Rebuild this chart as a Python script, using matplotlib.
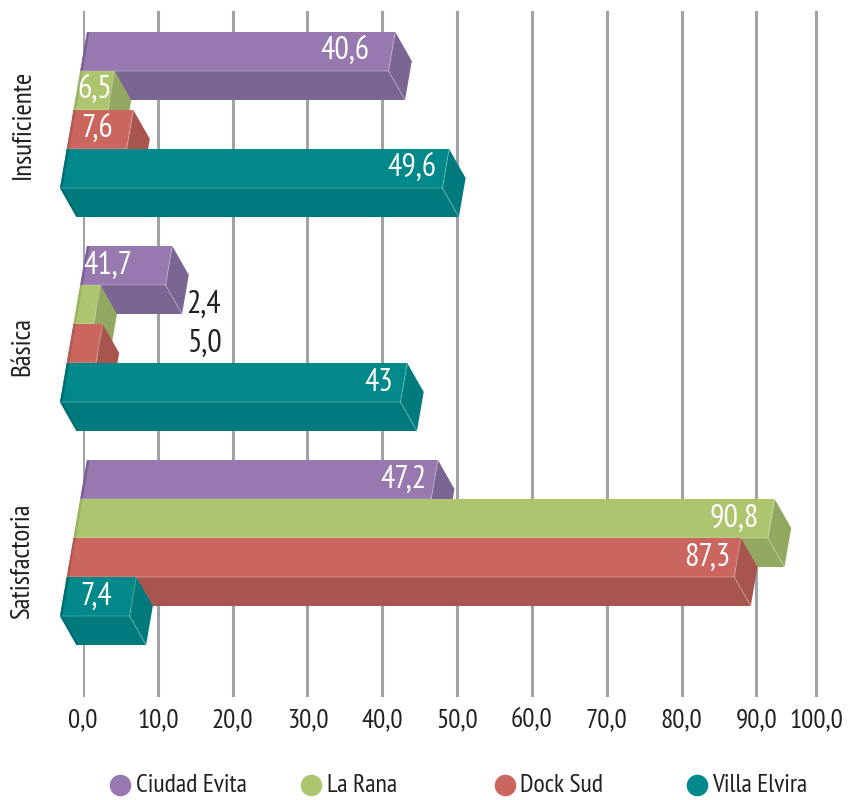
import matplotlib
matplotlib.use("Agg")
import matplotlib.pyplot as plt
from matplotlib.lines import Line2D
from matplotlib.patches import Polygon

""" data read off the picture """
categories = ["Insuficiente", "Básica", "Satisfactoria"]
series = ["Ciudad Evita", "La Rana", "Dock Sud", "Villa Elvira"]
# drawn bar lengths differ from the printed labels in the original
ciudad_evita = [41.2, 11.4, 46.9]
la_rana = [4.6, 2.7, 92.8]
dock_sud = [8.0, 3.9, 89.2]
villa_elvira = [51.1, 45.5, 9.3]
ciudad_evita_labels = ["40,6", "41,7", "47,2"]
la_rana_labels = ["6,5", "2,4", "90,8"]
dock_sud_labels = ["7,6", "5,0", "87,3"]
villa_elvira_labels = ["49,6", "43", "7,4"]
tick_values = [0, 10, 20, 30, 40, 50, 60, 70, 80, 90, 98]
tick_labels = ["0,0", "10,0", "20,0", "30,0", "40,0", "50,0", "60,0", "70,0", "80,0", "90,0", "100,0"]

""" styles """
W, H = 848, 800
PX = 7.483  # pixels per x unit
ROW = 39.0  # pixels per row
front = ["#9779B0", "#AEC56F", "#CB665F", "#00888A"]
side = ["#7B6593", "#92A860", "#A9554F", "#007A7D"]
sliver = ["#7A5F99", "#9CB265", "#B25A54", "#006E71"]
# distance from bar end to right edge of the label, pixels
label_pad = [[22, 37, 8], [-1, -124, 12], [17, -123, 7], [9, 11, 21]]
label_color = [["white"] * 3, ["white", "#231F20", "white"], ["white", "#231F20", "white"], ["white"] * 3]

plt.rcParams["font.family"] = ["PT Sans Narrow", "Roboto Condensed", "DejaVu Sans"]

fig = plt.figure(figsize=(W / 100, H / 100), dpi=100)
ax = fig.add_axes([83.0 / W, 1 - 697 / H, 100 * PX / W, 686 / H])
ax.set_xlim(0, 100)
ax.set_ylim((697 - 32) / ROW, (11 - 32) / ROW)
for s in ax.spines.values():
    s.set_visible(False)

""" grid and axis labels """
group_step = 214 / ROW
ax.set_axisbelow(True)
ax.set_xticks(tick_values, tick_labels, fontsize=19.5, color="#231F20")
ax.tick_params(axis="x", length=0, pad=8)
ax.xaxis.grid(True, color="#A0A3A6", lw=2.2)
cat_offset = [2.38, 2.57, 2.59]
ax.set_yticks([g * group_step + cat_offset[g] for g in range(3)], categories,
              fontsize=19.5, color="#231F20", rotation=90, va="center")
ax.tick_params(axis="y", length=0, pad=35)

""" extrusion and shear, in data units """
dx, dy = 16.5 / PX, 29 / ROW
shear = 6.75 / PX
left0 = 4.0 / PX


def poly(pts, color, z):
    ax.add_patch(Polygon(pts, closed=True, fc=color, ec="none", clip_on=False, zorder=z))


def edge(xs, ys, z):
    ax.add_line(Line2D(xs, ys, color="white", alpha=0.25, lw=0.8, clip_on=False, zorder=z))


values = [ciudad_evita, la_rana, dock_sud, villa_elvira]
labels = [ciudad_evita_labels, la_rana_labels, dock_sud_labels, villa_elvira_labels]

""" draw bars top to bottom, lower ones cover the depth of upper ones """
z = 3
for g in range(len(categories)):
    for r in range(len(series)):
        y0 = g * group_step + r
        y1 = y0 + 1
        lt = left0 - shear * r
        lb = lt - shear
        rt = lt + values[r][g]
        rb = rt - shear
        # bottom face, right face, front, left sliver
        poly([(lb, y1), (rb, y1), (rb + dx, y1 + dy), (lb + dx, y1 + dy)], side[r], z)
        poly([(rt, y0), (rt + dx, y0 + dy), (rb + dx, y1 + dy), (rb, y1)], side[r], z)
        poly([(lb, y1), (lb + 3 / PX, y1), (lb + dx + 2 / PX, y1 + dy), (lb + dx, y1 + dy)], sliver[r], z + 0.05)
        poly([(lt, y0), (rt, y0), (rb, y1), (lb, y1)], front[r], z + 0.1)
        poly([(lt, y0), (lt + 2.5 / PX, y0), (lb + 2.5 / PX, y1), (lb, y1)], sliver[r], z + 0.2)
        edge([lb, rb, rt], [y1, y1, y0], z + 0.3)
        edge([rb, rb + dx], [y1, y1 + dy], z + 0.3)
        ax.text((rt + rb) / 2 - label_pad[r][g] / PX, y0 + 0.52, labels[r][g], ha="right",
                va="center", fontsize=23, color=label_color[r][g], zorder=50, clip_on=False)
        z += 1

""" legend, spaced unevenly in the original """
legend_marker_px = [120, 311, 505, 697]
legend_text_px = [136, 327, 520, 712]
for r, name in enumerate(series):
    fig.add_artist(Line2D([legend_marker_px[r] / W], [1 - 785 / H], marker="o", ms=15.5,
                          mfc=front[r], mec="none", ls="none", transform=fig.transFigure))
    fig.text(legend_text_px[r] / W, 1 - 786 / H, name, fontsize=18.5, color="#231F20",
             ha="left", va="center")

fig.savefig("out.png", dpi=100)
